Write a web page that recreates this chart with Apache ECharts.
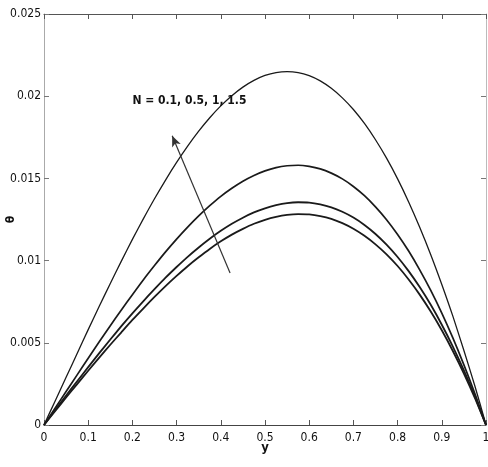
<!DOCTYPE html>
<html>
<head>
<meta charset="utf-8">
<script src="https://cdn.jsdelivr.net/npm/echarts@6/dist/echarts.min.js"></script>
<style>
html,body{margin:0;padding:0;background:#fff;}
#c{width:488px;height:467px;}
</style>
</head>
<body>
<div id="c"></div>
<script>
// x positions (y coordinate across channel)
var yPos = [0,0.025,0.05,0.075,0.1,0.125,0.15,0.175,0.2,0.225,0.25,0.275,0.3,0.325,0.35,0.375,0.4,0.425,0.45,0.475,0.5,
            0.525,0.55,0.575,0.6,0.625,0.65,0.675,0.7,0.725,0.75,0.775,0.8,0.825,0.85,0.875,0.9,0.925,0.95,0.975,1];
// theta values for N = 1.5, 1, 0.5, 0.1 (top to bottom)
var thetaN15 = [0,0.00145,0.00290,0.00435,0.00580,0.00722,0.00861,0.00997,0.01129,0.01255,0.01376,0.01490,0.01597,0.01696,0.01787,0.01869,0.01941,0.02003,0.02055,0.02096,0.02126,
                0.02144,0.02150,0.02144,0.02125,0.02093,0.02048,0.01990,0.01919,0.01834,0.01735,0.01623,0.01497,0.01357,0.01203,0.01036,0.00855,0.00662,0.00453,0.00236,0];
var thetaN1  = [0,0.00102,0.00204,0.00305,0.00406,0.00506,0.00604,0.00700,0.00793,0.00884,0.00970,0.01053,0.01131,0.01204,0.01272,0.01334,0.01391,0.01440,0.01483,0.01518,0.01546,
                0.01566,0.01577,0.01580,0.01573,0.01558,0.01532,0.01497,0.01451,0.01395,0.01327,0.01249,0.01159,0.01058,0.00944,0.00819,0.00681,0.00530,0.00366,0.00190,0];
var thetaN05 = [0,0.00090,0.00179,0.00266,0.00352,0.00437,0.00520,0.00601,0.00679,0.00754,0.00826,0.00896,0.00961,0.01023,0.01080,0.01133,0.01181,0.01224,0.01261,0.01293,0.01318,
                0.01337,0.01350,0.01355,0.01353,0.01342,0.01324,0.01297,0.01262,0.01217,0.01162,0.01097,0.01022,0.00936,0.00839,0.00731,0.00610,0.00477,0.00332,0.00173,0];
var thetaN01 = [0,0.00084,0.00167,0.00249,0.00330,0.00410,0.00488,0.00564,0.00639,0.00710,0.00779,0.00845,0.00907,0.00966,0.01020,0.01071,0.01117,0.01158,0.01193,0.01224,0.01248,
                0.01266,0.01278,0.01283,0.01281,0.01271,0.01254,0.01228,0.01194,0.01151,0.01099,0.01038,0.00967,0.00885,0.00793,0.00690,0.00576,0.00450,0.00313,0.00163,0];
var xTicks = [0,0.1,0.2,0.3,0.4,0.5,0.6,0.7,0.8,0.9,1];
var yTickLabels = ['0','0.005','0.01','0.015','0.02','0.025'];
var noteText = 'N = 0.1, 0.5, 1, 1.5';
var notePos = [0.329, 0.0197];
var arrowFrom = [0.421, 0.00925];
var arrowTo = [0.290, 0.01760];

var FONT = "'Liberation Sans Narrow','DejaVu Sans Condensed','Liberation Sans',sans-serif";
function pairs(v){ return yPos.map(function(x,i){ return [x, v[i]]; }); }

var chart = echarts.init(document.getElementById('c'), null, {renderer:'canvas'});
var axisLab = {color:'#111', fontFamily:FONT, fontSize:12};
var option = {
  animation:false,
  backgroundColor:'#fff',
  grid:{left:44, right:2, top:14, bottom:42, containLabel:false, outerBoundsMode:'none'},
  xAxis:[{
    type:'value', min:0, max:1, interval:0.1,
    name:'y', nameLocation:'middle', nameGap:16, nameMoveOverlap:false,
    nameTextStyle:{color:'#111', fontFamily:FONT, fontSize:13, fontWeight:'bold'},
    axisLine:{show:true, onZero:false, lineStyle:{color:'#444', width:1}},
    axisTick:{show:true, inside:true, length:5, lineStyle:{color:'#555'}},
    axisLabel:Object.assign({margin:7, hideOverlap:false, formatter:function(v){ var i = xTicks.indexOf(Math.round(v*10)/10); return i>=0 ? String(xTicks[i]) : ''; }}, axisLab),
    splitLine:{show:false}
  },{
    type:'value', min:0, max:1, interval:0.1, position:'top',
    axisLine:{show:true, onZero:false, lineStyle:{color:'#555', width:1}},
    axisTick:{show:true, inside:true, length:5, lineStyle:{color:'#555'}},
    axisLabel:{show:false}, splitLine:{show:false}
  }],
  yAxis:[{
    type:'value', min:0, max:0.025, interval:0.005,
    name:'θ', nameLocation:'middle', nameGap:27, nameRotate:90, nameMoveOverlap:false,
    nameTextStyle:{color:'#111', fontFamily:FONT, fontSize:12, fontWeight:'bold'},
    axisLine:{show:true, onZero:false, lineStyle:{color:'#aaa', width:1}},
    axisTick:{show:true, inside:true, length:5, lineStyle:{color:'#777'}},
    axisLabel:Object.assign({margin:3, hideOverlap:false, formatter:function(v){ var i = Math.round(v/0.005); return yTickLabels[i] || ''; }}, axisLab),
    splitLine:{show:false}
  },{
    type:'value', min:0, max:0.025, interval:0.005, position:'right',
    axisLine:{show:true, onZero:false, lineStyle:{color:'#bbb', width:1}},
    axisTick:{show:true, inside:true, length:5, lineStyle:{color:'#777'}},
    axisLabel:{show:false}, splitLine:{show:false}
  }],
  series:[
    {type:'line', name:'N=1.5', data:pairs(thetaN15), smooth:0.25, showSymbol:false, lineStyle:{color:'#1a1a1a', width:1.3},
     markLine:{silent:true, symbolSize:[7,11], animation:false, label:{show:false},
       lineStyle:{color:'#333', width:1.2, type:'solid'},
       data:[[{coord:arrowFrom, symbol:'none'},{coord:arrowTo, symbol:'arrow'}]]},
     markPoint:{silent:true, animation:false,
       data:[{coord:notePos, symbol:'circle', symbolSize:0,
         label:{show:true, position:'inside', formatter:noteText, color:'#111', fontFamily:FONT, fontSize:12, fontWeight:'bold'}}]}
    },
    {type:'line', name:'N=1', data:pairs(thetaN1), smooth:0.25, showSymbol:false, lineStyle:{color:'#1a1a1a', width:1.7}},
    {type:'line', name:'N=0.5', data:pairs(thetaN05), smooth:0.25, showSymbol:false, lineStyle:{color:'#1a1a1a', width:1.8}},
    {type:'line', name:'N=0.1', data:pairs(thetaN01), smooth:0.25, showSymbol:false, lineStyle:{color:'#1a1a1a', width:1.8}}
  ]
};
chart.setOption(option);
</script>
</body>
</html>
